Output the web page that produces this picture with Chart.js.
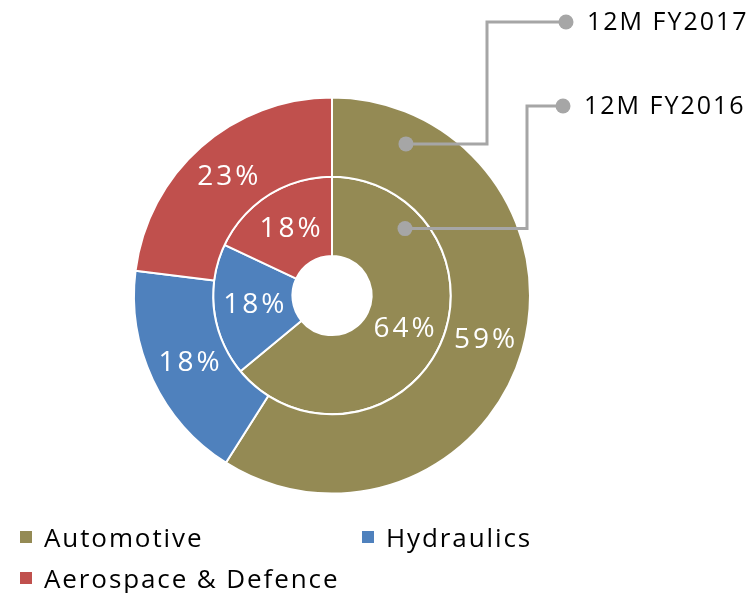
<!DOCTYPE html>
<html>
<head>
<meta charset="utf-8">
<script src="https://cdn.jsdelivr.net/npm/chart.js@4"></script>
<style>
  html, body { margin: 0; padding: 0; background: #fff; }
  #wrap { position: relative; width: 756px; height: 593px; }
  #chart { position: absolute; left: 0; top: 0; }
  #legend { position: absolute; left: 20px; top: 521px; width: 700px;
    display: grid; grid-template-columns: 342px 300px; row-gap: 9px;
    font-family: "Open Sans", sans-serif; font-size: 26px; letter-spacing: 1.9px; color: #000; }
  #legend div { display: flex; align-items: center; height: 32px; }
  #legend span.box { width: 12px; height: 12px; margin-right: 12px; display: inline-block; }
</style>
</head>
<body>
<div id="wrap">
  <canvas id="chart" width="756" height="593"></canvas>
  <div id="legend"></div>
</div>
<script>
// categorias e valores (em %)
const categories = ['Automotive', 'Hydraulics', 'Aerospace & Defence'];
const seriesNames = ['12M FY2017', '12M FY2016'];
const fy2017 = [59, 18, 23];
const fy2016 = [64, 18, 18];
const colors = ['#948A54', '#4F81BD', '#C0504D'];

// legenda em HTML
const legendEl = document.getElementById('legend');
categories.forEach((c, i) => {
  const d = document.createElement('div');
  d.innerHTML = '<span class="box" style="background:' + colors[i] + '"></span>' + c;
  legendEl.appendChild(d);
});

// rótulos de percentagem dentro das fatias
const sliceLabels = {
  id: 'sliceLabels',
  afterDatasetsDraw(chart) {
    const ctx = chart.ctx;
    ctx.save();
    ctx.font = '28px "Open Sans", sans-serif';
    ctx.letterSpacing = '3px';
    ctx.fillStyle = '#fff';
    ctx.textAlign = 'center';
    ctx.textBaseline = 'middle';
    chart.data.datasets.forEach((ds, di) => {
      const meta = chart.getDatasetMeta(di);
      meta.data.forEach((arc, i) => {
        const p = arc.tooltipPosition();
        ctx.fillText(ds.data[i] + '%', p.x + 2, p.y);
      });
    });
    ctx.restore();
  }
};

// linhas de chamada para os nomes das séries
const callouts = {
  id: 'callouts',
  afterDatasetsDraw(chart) {
    const ctx = chart.ctx;
    const cfg = [
      { ds: 0, angle: 26, frac: 0.63, elbowX: 487, y: 22, dotX: 566 },
      { ds: 1, angle: 47.5, frac: 0.75, elbowX: 527, y: 106, dotX: 563 }
    ];
    ctx.save();
    cfg.forEach(c => {
      const arc = chart.getDatasetMeta(c.ds).data[0];
      const r = arc.innerRadius + (arc.outerRadius - arc.innerRadius) * c.frac;
      const a = c.angle * Math.PI / 180;
      const ax = arc.x + r * Math.sin(a);
      const ay = arc.y - r * Math.cos(a);
      ctx.strokeStyle = '#A6A6A6';
      ctx.fillStyle = '#A6A6A6';
      ctx.lineWidth = 3;
      ctx.beginPath();
      ctx.moveTo(ax, ay);
      ctx.lineTo(c.elbowX, ay);
      ctx.lineTo(c.elbowX, c.y);
      ctx.lineTo(c.dotX, c.y);
      ctx.stroke();
      [[ax, ay], [c.dotX, c.y]].forEach(pt => {
        ctx.beginPath();
        ctx.arc(pt[0], pt[1], 7.5, 0, Math.PI * 2);
        ctx.fill();
      });
      ctx.fillStyle = '#000';
      ctx.font = '25px "Open Sans", sans-serif';
      ctx.letterSpacing = '2px';
      ctx.textAlign = 'left';
      ctx.textBaseline = 'middle';
      ctx.fillText(seriesNames[c.ds], c.dotX + 21, c.y + 1);
    });
    ctx.restore();
  }
};

new Chart(document.getElementById('chart'), {
  type: 'doughnut',
  data: {
    labels: categories,
    datasets: [
      { label: seriesNames[0], data: fy2017, backgroundColor: colors, borderColor: '#fff', borderWidth: 2 },
      { label: seriesNames[1], data: fy2016, backgroundColor: colors, borderColor: '#fff', borderWidth: 2 }
    ]
  },
  options: {
    responsive: false,
    animation: false,
    cutout: '20%',
    layout: { padding: { left: 133, right: 225, top: 96, bottom: 98 } },
    plugins: {
      legend: { display: false },
      tooltip: { enabled: false }
    }
  },
  plugins: [sliceLabels, callouts]
});
</script>
</body>
</html>
